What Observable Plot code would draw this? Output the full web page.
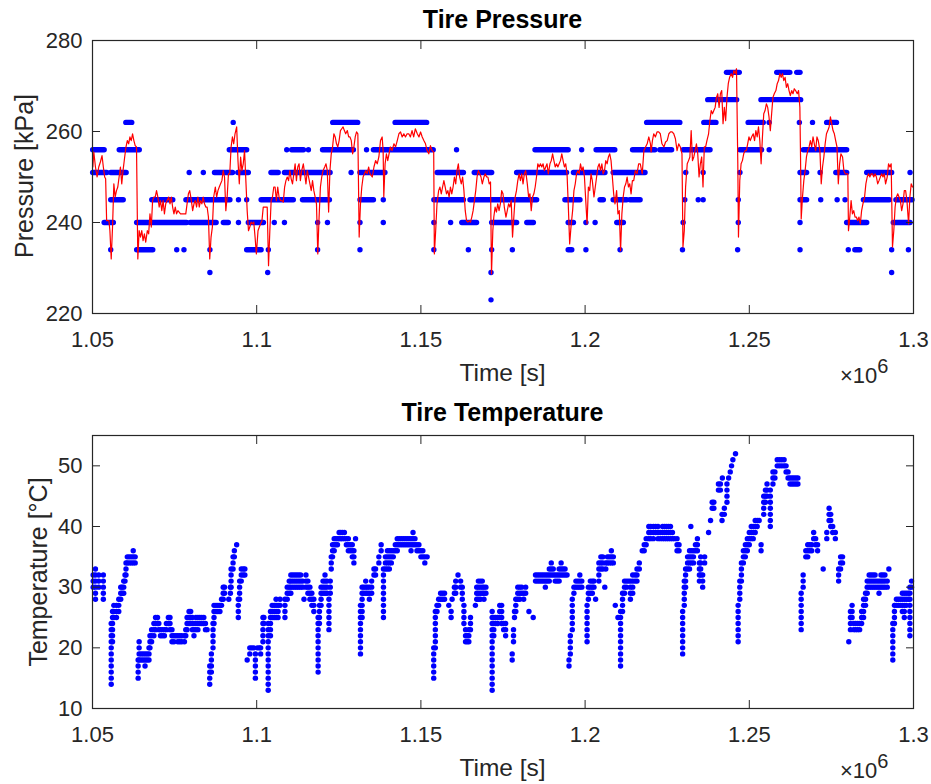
<!DOCTYPE html>
<html>
<head>
<meta charset="utf-8">
<script src="https://cdn.jsdelivr.net/npm/d3@7"></script>
<script src="https://cdn.jsdelivr.net/npm/@observablehq/plot@0.6"></script>
<style>
  html, body { margin: 0; padding: 0; background: #fff; }
  #wrap { position: relative; width: 931px; height: 784px; font-family: "Liberation Sans", Arial, Helvetica, sans-serif; color: #262626; overflow: hidden; }
  .panel { position: absolute; left: 0; }
  .txt { position: absolute; line-height: 1; white-space: nowrap; }
  .title { font-weight: bold; font-size: 25px; color: #000; left: 92px; width: 821px; text-align: center; }
  .xlab { font-size: 24.5px; left: 92px; width: 821px; text-align: center; }
  .ylab { font-size: 25px; transform: translate(-50%, -50%) rotate(-90deg); }
  .exp { font-size: 22px; left: 840px; }
  .exp sup { font-size: 20px; position: relative; top: -10px; vertical-align: baseline; }
</style>
</head>
<body>
<div id="wrap">
  <div id="pressurePanel" class="panel" style="top:0"></div>
  <div id="temperaturePanel" class="panel" style="top:395px"></div>
  <div class="txt title" style="top:7px">Tire Pressure</div>
  <div class="txt xlab" style="top:361px">Time [s]</div>
  <div class="txt exp" style="top:365px">×10<sup>6</sup></div>
  <div class="txt ylab" style="left:24px; top:176px">Pressure [kPa]</div>
  <div class="txt title" style="top:400px">Tire Temperature</div>
  <div class="txt xlab" style="top:756px">Time [s]</div>
  <div class="txt exp" style="top:760px">×10<sup>6</sup></div>
  <div class="txt ylab" style="left:38px; top:572px">Temperature [°C]</div>
</div>
<script>
// Time values are in kiloseconds (axis shows seconds ×10^6)
const xTicks = [1050, 1100, 1150, 1200, 1250, 1300];
const pressureTicks = [220, 240, 260, 280];
const temperatureTicks = [10, 20, 30, 40, 50];

// Raw pressure readings (quantized levels), as runs of consecutive dots: [tStart, tEnd, kPa]
const pressureRuns = [
  [1060.3,1062.1,262],[1093.0,1093.0,262],[1123.3,1130.9,262],[1142.3,1151.9,262],
  [1218.9,1229.0,262],[1236.3,1240.0,262],[1249.8,1254.4,262],[1256.2,1256.2,262],[1265.4,1265.4,262],[1269.4,1269.4,262],[1273.7,1276.7,262],
  [1243.2,1247.1,273],[1258.5,1262.5,273],[1264.6,1265.6,273],
  [1237.5,1246.3,267],[1253.7,1265.8,267],
  [1050.2,1053.7,256],[1058.3,1064.4,256],[1091.8,1097.1,256],[1109.3,1109.3,256],[1110.8,1114.4,256],[1115.9,1115.9,256],[1120.2,1129.6,256],[1133.6,1133.6,256],
  [1135.7,1153.9,256],[1161.0,1161.0,256],[1184.9,1195.0,256],[1199.1,1199.1,256],[1203.5,1209.2,256],[1214.6,1221.4,256],
  [1222.9,1226.5,256],[1230.0,1238.2,256],[1247.3,1253.9,256],[1256.2,1256.2,256],[1266.6,1279.8,256],
  [1050.2,1054.5,251],[1055.7,1060.4,251],[1079.6,1079.6,251],[1083.9,1083.9,251],[1087.3,1092.8,251],[1094.4,1097.6,251],[1104.5,1106.7,251],
  [1108.6,1122.5,251],[1128.9,1128.9,251],[1131.6,1139.2,251],[1155.1,1163.1,251],[1166.4,1171.7,251],[1179.3,1194.5,251],[1196.6,1206.2,251],
  [1208.7,1218.4,251],[1230.8,1230.8,251],[1236.1,1236.1,251],[1247.3,1247.3,251],[1265.6,1267.6,251],[1271.7,1271.7,251],[1276.5,1279.8,251],
  [1285.9,1293.5,251],[1299.1,1299.1,251],
  [1055.7,1059.5,245],[1068.2,1074.6,245],[1078.6,1092.0,245],[1094.6,1094.6,245],[1097.1,1097.1,245],[1101.5,1111.3,245],[1114.1,1122.3,245],
  [1131.6,1135.7,245],[1138.7,1138.7,245],[1154.1,1163.1,245],[1165.1,1185.4,245],[1194.0,1198.6,245],[1204.7,1205.7,245],[1208.7,1212.8,245],
  [1213.8,1216.9,245],[1230.5,1230.5,245],[1234.6,1234.6,245],[1236.1,1236.1,245],[1246.8,1246.8,245],[1265.6,1267.6,245],[1271.9,1271.9,245],
  [1276.9,1276.9,245],[1279.3,1279.3,245],[1284.9,1292.8,245],[1294.8,1299.7,245],
  [1053.7,1056.5,240],[1063.6,1078.8,240],[1079.9,1087.8,240],[1090.0,1091.5,240],[1094.6,1094.6,240],[1097.6,1102.2,240],[1105.5,1105.5,240],
  [1108.6,1108.6,240],[1118.7,1118.7,240],[1121.7,1121.7,240],[1131.6,1131.6,240],[1138.7,1138.7,240],[1154.1,1154.1,240],[1159.2,1159.2,240],
  [1162.6,1167.1,240],[1171.7,1179.3,240],[1182.4,1184.4,240],[1195.0,1196.6,240],[1200.4,1200.4,240],[1203.2,1203.2,240],[1209.8,1211.8,240],
  [1230.0,1230.0,240],[1246.8,1246.8,240],[1265.6,1265.6,240],[1279.8,1285.9,240],[1294.0,1299.1,240],
  [1055.7,1055.7,234],[1063.6,1068.5,234],[1075.8,1075.8,234],[1078.0,1078.0,234],[1085.9,1085.9,234],[1097.1,1101.5,234],[1103.7,1103.7,234],
  [1118.7,1118.7,234],[1131.6,1131.6,234],[1154.1,1154.1,234],[1164.6,1164.6,234],[1171.7,1171.7,234],[1178.0,1178.0,234],[1195.0,1196.1,234],
  [1200.4,1200.4,234],[1210.8,1210.8,234],[1229.8,1229.8,234],[1246.6,1246.6,234],[1265.6,1265.6,234],[1280.3,1280.3,234],[1282.3,1283.8,234],
  [1293.5,1293.5,234],[1298.6,1298.6,234],
  [1085.9,1085.9,229],[1103.5,1103.5,229],[1171.5,1171.5,229],[1293.5,1293.5,229],
  [1171.5,1171.5,223]
];

// Filtered pressure (red line): [t, kPa]
const pressureFiltered = [
  [1050.1,252.2],[1050.4,255.5],[1050.9,252.2],[1051.4,250.0],[1051.9,252.2],[1052.4,253.3],[1052.9,254.7],[1053.3,252.2],[1053.7,250.0],[1054.0,249.6],
  [1054.3,240.4],[1055.0,240.4],[1055.3,238.2],[1055.7,232.0],[1056.1,239.0],[1056.5,248.5],[1056.9,245.6],[1057.3,247.0],[1057.7,247.8],[1058.1,250.0],
  [1058.5,252.2],[1058.9,248.5],[1059.3,251.4],[1059.8,254.4],[1060.2,256.6],[1060.6,258.0],[1061.0,257.3],[1061.4,258.8],[1061.8,258.0],[1062.2,259.5],
  [1062.6,258.0],[1063.0,256.9],[1063.4,256.6],[1063.8,232.0],[1064.2,238.2],[1064.6,236.8],[1065.0,238.2],[1065.4,236.0],[1065.8,237.5],[1066.2,235.7],
  [1066.7,238.2],[1067.1,237.5],[1067.5,241.9],[1067.9,239.0],[1068.3,244.8],[1068.7,245.6],[1069.1,245.6],[1069.5,247.0],[1069.9,245.6],[1070.3,243.4],
  [1070.7,244.8],[1071.1,242.6],[1071.5,244.8],[1071.9,241.9],[1072.3,244.1],[1072.7,244.8],[1073.2,245.6],[1073.6,244.1],[1074.0,245.6],[1074.4,243.4],
  [1074.8,241.9],[1075.2,243.4],[1075.6,241.9],[1076.0,242.6],[1076.8,241.9],[1077.6,241.9],[1078.4,241.9],[1078.8,244.1],[1079.2,246.3],[1079.6,247.0],
  [1080.1,244.8],[1080.5,242.6],[1080.9,244.1],[1081.3,244.8],[1081.7,243.4],[1082.1,245.6],[1082.5,243.4],[1082.9,244.8],[1083.3,244.1],[1083.7,245.6],
  [1084.1,244.1],[1084.5,243.4],[1084.9,243.4],[1085.3,241.2],[1085.7,232.0],[1086.1,236.8],[1086.5,239.0],[1086.9,245.6],[1087.4,247.8],[1087.8,245.6],
  [1088.2,247.0],[1088.6,247.8],[1089.0,248.5],[1089.4,249.2],[1089.8,251.4],[1090.2,250.0],[1090.6,242.6],[1091.0,245.6],[1091.4,250.7],[1091.8,250.7],
  [1092.2,256.6],[1092.6,258.8],[1093.0,257.3],[1093.4,259.5],[1093.9,261.0],[1094.3,253.6],[1094.7,248.5],[1095.1,254.4],[1095.5,251.4],[1095.9,252.9],
  [1096.3,255.8],[1096.7,249.2],[1097.1,242.6],[1097.5,238.2],[1097.9,239.0],[1098.3,240.1],[1098.7,239.7],[1099.1,240.1],[1099.5,236.8],[1099.9,233.1],
  [1100.4,238.2],[1100.8,239.0],[1101.2,239.7],[1101.6,240.4],[1102.0,243.4],[1102.4,243.4],[1102.8,243.4],[1103.2,243.4],[1103.6,230.5],[1104.0,238.2],
  [1104.4,244.8],[1104.8,245.6],[1105.2,247.8],[1105.6,247.8],[1106.0,244.8],[1106.4,247.8],[1106.8,245.6],[1107.3,244.8],[1107.7,244.8],[1108.1,244.5],
  [1108.5,247.8],[1108.9,249.2],[1109.3,250.0],[1109.7,249.2],[1110.1,251.4],[1110.5,249.6],[1110.9,248.5],[1111.3,250.7],[1111.7,252.9],[1112.1,249.2],
  [1112.5,252.2],[1112.9,252.9],[1113.3,249.2],[1113.7,251.4],[1114.2,252.9],[1114.6,250.7],[1115.0,248.5],[1115.4,251.4],[1115.8,250.0],[1116.2,248.5],
  [1116.6,247.0],[1117.0,249.2],[1117.4,247.0],[1117.8,245.6],[1118.2,244.1],[1118.6,233.1],[1119.0,241.2],[1119.4,247.8],[1119.8,250.0],[1120.2,251.4],
  [1120.7,252.2],[1121.1,252.9],[1121.5,251.4],[1121.9,242.3],[1122.3,251.4],[1122.7,255.1],[1123.1,256.6],[1123.5,259.5],[1123.9,258.8],[1124.3,257.3],
  [1124.7,256.6],[1125.1,258.0],[1125.5,260.2],[1125.9,260.6],[1126.3,261.0],[1126.7,260.2],[1127.1,259.5],[1127.6,260.2],[1128.0,258.8],[1128.4,258.8],
  [1128.8,258.0],[1129.2,255.1],[1129.6,256.6],[1130.0,258.8],[1130.4,259.9],[1130.8,259.5],[1131.2,236.8],[1131.6,244.1],[1132.0,247.8],[1132.4,250.0],
  [1132.8,250.7],[1133.2,251.4],[1133.6,250.7],[1134.1,252.2],[1134.5,250.7],
  [1135.2,250.0],[1135.7,252.2],[1136.2,253.6],[1136.7,252.9],[1137.2,254.4],[1137.7,258.0],[1138.2,258.8],[1138.5,255.8],[1138.7,245.6],[1139.1,252.9],
  [1139.5,255.1],[1139.9,253.6],[1140.3,255.1],[1140.7,256.6],[1141.2,255.8],[1141.8,257.3],[1142.3,256.6],[1142.8,258.0],[1143.3,259.5],[1143.8,259.9],
  [1144.3,258.8],[1144.8,259.5],[1145.3,258.8],[1145.8,259.5],[1146.3,259.5],[1146.8,258.8],[1147.3,260.2],[1147.8,258.8],[1148.3,260.6],[1148.9,259.5],
  [1149.4,258.8],[1149.9,259.9],[1150.4,258.8],[1150.9,258.0],[1151.4,257.3],[1151.9,255.8],[1152.4,255.1],[1152.9,256.9],[1153.4,255.8],[1153.9,255.5],
  [1154.1,233.1],[1154.5,238.2],[1154.9,244.1],[1155.4,247.0],[1155.8,247.8],[1156.2,246.3],[1156.6,247.8],[1157.0,249.2],[1157.4,247.8],[1157.8,246.3],
  [1158.2,247.0],[1158.6,245.6],[1159.0,247.8],[1159.4,246.3],[1159.8,247.8],[1160.2,250.0],[1160.6,248.5],[1161.0,251.4],[1161.4,252.9],[1161.8,250.0],
  [1162.3,248.5],[1162.7,250.0],[1163.1,247.0],[1163.5,242.6],[1163.9,240.4],[1164.3,240.1],[1164.7,240.4],[1165.1,240.1],[1165.5,241.2],[1165.9,242.6],
  [1166.3,244.8],[1166.7,247.0],[1167.1,250.0],[1167.5,251.4],[1167.9,250.7],[1168.3,250.0],[1168.7,248.5],[1169.2,250.0],[1169.6,250.7],[1170.0,250.0],
  [1170.4,250.0],[1170.8,248.5],[1171.2,248.9],[1171.5,228.7],[1171.9,238.2],[1172.2,241.2],[1172.6,243.4],[1173.0,242.3],[1173.4,244.1],[1173.8,242.6],
  [1174.2,244.1],[1174.6,247.0],[1175.0,246.3],[1175.4,243.4],[1175.9,241.2],[1176.3,242.6],[1176.7,244.1],[1177.1,243.4],[1177.5,244.8],[1177.9,236.8],
  [1178.3,241.2],[1178.7,245.6],[1179.1,247.0],[1179.5,249.2],[1179.9,250.7],[1180.3,249.2],[1180.7,250.7],[1181.1,248.5],[1181.5,250.7],[1181.9,251.4],
  [1182.4,248.5],[1182.8,245.6],[1183.2,246.3],[1183.6,242.6],[1184.0,245.6],[1184.4,246.3],[1184.8,247.8],[1185.2,250.0],[1185.6,252.9],[1186.0,252.2],
  [1186.4,252.9],[1186.8,252.2],[1187.2,252.9],[1187.6,251.4],[1188.0,252.2],[1188.4,252.9],[1188.8,250.7],[1189.3,252.9],[1189.7,253.6],[1190.1,255.1],
  [1190.5,253.6],[1190.9,252.2],[1191.3,252.9],[1191.7,252.2],[1192.1,252.9],[1192.5,253.6],[1192.9,255.1],[1193.3,253.6],[1193.7,252.2],[1194.1,252.9],
  [1194.5,250.7],[1194.9,243.4],[1195.3,235.3],[1195.7,239.0],[1196.2,242.6],[1196.6,247.0],[1197.0,248.5],[1197.4,250.7],[1197.8,251.4],[1198.2,250.7],
  [1198.6,252.9],[1199.0,251.4],[1199.4,252.2],[1199.8,250.0],[1200.2,244.8],[1200.6,239.7],[1201.0,247.8],[1201.4,247.0],[1201.8,250.7],[1202.2,249.2],
  [1202.7,245.6],[1203.1,247.8],[1203.5,250.0],[1203.9,252.2],[1204.3,252.9],[1204.7,251.4],[1205.1,252.9],[1205.5,250.7],[1205.9,251.4],[1206.3,253.6],
  [1206.7,252.9],[1207.1,254.4],[1207.5,255.1],[1207.9,253.6],[1208.3,250.0],[1208.7,246.3],[1209.1,244.1],[1209.6,247.0],[1210.0,241.9],[1210.4,242.6],
  [1210.8,233.8],[1211.2,241.9],[1211.6,245.6],[1212.0,247.8],[1212.4,248.5],[1212.8,250.0],[1213.2,247.8],[1213.6,248.5],[1214.0,246.3],[1214.4,249.2],
  [1214.8,249.2],[1215.3,251.4],[1215.8,250.7],[1216.3,252.9],[1216.8,252.9],[1217.4,250.7],[1217.9,255.8],[1218.4,256.6],[1218.9,257.3],[1219.4,258.8],
  [1219.9,257.3],[1220.1,255.5],[1220.5,258.0],[1220.9,259.5],[1221.4,258.8],[1221.9,259.9],[1222.4,259.9],[1222.9,259.5],[1223.4,257.3],[1224.0,256.6],
  [1224.5,257.7],[1225.0,258.0],[1225.5,259.5],[1226.0,259.9],[1226.5,259.9],[1227.0,259.5],[1227.5,258.4],[1228.0,255.8],[1228.5,257.3],[1229.0,256.6],
  [1229.5,255.1],[1229.8,234.6],[1230.2,238.2],[1230.6,247.8],[1231.1,252.9],[1231.5,253.6],[1231.9,254.4],[1232.3,260.2],[1232.7,253.6],[1233.1,254.4],
  [1233.5,255.8],[1233.9,257.3],[1234.3,255.1],[1234.7,250.0],[1235.1,252.9],[1235.5,254.4],[1235.9,247.8],[1236.3,256.6],[1236.7,256.6],[1237.1,258.0],
  [1237.6,259.5],[1238.0,262.4],[1238.4,264.6],[1238.8,263.9],[1239.2,264.6],[1239.6,265.3],[1240.0,267.5],[1240.4,268.3],[1240.8,265.3],[1241.2,268.3],
  [1241.6,269.0],[1242.0,261.7],[1242.4,265.3],[1242.8,262.4],[1243.2,267.5],[1243.6,270.5],[1244.0,271.9],[1244.5,272.7],[1244.9,271.9],[1245.3,273.4],
  [1245.7,272.7],[1246.1,273.8],[1246.5,252.9],[1246.7,236.8],[1247.1,249.2],[1247.5,252.9],[1247.9,253.6],[1248.3,255.1],[1248.7,255.8],[1249.1,255.8],
  [1249.5,257.3],[1249.9,258.8],[1250.3,258.0],[1250.7,258.8],[1251.2,259.5],[1251.6,258.0],[1252.0,260.2],[1252.4,258.8],[1252.8,261.0],[1253.2,258.0],
  [1253.6,252.9],[1254.0,258.8],[1254.4,263.9],[1254.8,264.6],[1255.2,266.1],[1255.6,265.3],[1256.0,263.2],[1256.4,260.2],[1256.8,263.9],[1257.2,267.5],
  [1257.6,268.3],[1258.1,269.0],[1258.5,270.5],[1258.9,271.2],[1259.3,272.7],[1259.7,271.9],[1260.1,272.7],[1260.5,271.2],[1260.9,271.9],[1261.3,269.7],
  [1261.7,270.5],[1262.1,269.0],[1262.5,267.9],[1262.9,269.0],[1263.3,268.3],[1263.7,269.4],[1264.1,269.0],[1264.6,268.3],[1265.0,269.0],[1265.4,265.3],
  [1265.6,254.4],[1265.8,240.8],[1266.2,245.6],[1266.6,249.2],[1267.0,251.4],[1267.4,254.4],[1267.8,255.8],[1268.2,256.6],[1268.6,258.0],[1269.0,256.6],
  [1269.4,258.8],[1269.8,257.3],[1270.2,255.8],[1270.6,258.8],[1271.0,258.0],[1271.5,255.8],[1271.9,248.5],[1272.3,252.2],[1272.7,254.4],[1273.1,257.3],
  [1273.5,259.5],[1273.9,260.2],[1274.3,261.0],[1274.7,263.2],[1275.1,261.7],[1275.5,260.2],[1275.9,259.5],[1276.3,258.0],[1276.7,256.6],[1277.1,248.5],
  [1277.5,252.9],[1277.9,255.1],[1278.4,254.4],[1278.8,251.4],[1279.2,250.7],[1279.6,250.7],[1280.0,250.7],[1280.2,238.2],[1280.6,241.2],[1281.0,244.8],
  [1281.4,241.9],[1281.8,242.6],[1282.2,241.2],[1282.6,241.2],[1283.0,240.4],[1283.4,241.2],[1283.8,239.7],[1284.2,242.6],[1284.6,244.1],[1285.1,245.6],
  [1285.5,248.5],[1285.9,250.0],[1286.3,250.7],[1286.7,250.0],[1287.1,250.7],[1287.5,250.7],[1287.9,250.0],[1288.3,250.7],[1288.7,250.0],[1289.1,248.5],
  [1289.5,249.2],[1289.9,250.0],[1290.3,250.7],[1290.7,250.0],[1291.1,250.7],[1291.5,248.5],[1292.0,250.0],[1292.4,252.9],[1292.8,252.2],[1293.2,252.9],
  [1293.6,234.6],[1294.0,238.2],[1294.4,243.4],[1294.8,245.6],[1295.2,246.3],[1295.6,245.6],[1296.0,244.8],[1296.4,242.6],[1296.8,244.1],[1297.2,247.0],
  [1297.6,247.0],[1298.0,244.8],[1298.5,239.7],[1298.9,245.6],[1299.3,248.5],[1299.7,247.8]
];

// Temperature readings (integer °C). Each entry is one time column: [t, lowest °C, highest °C];
// every integer reading between lowest and highest is a visible dot in that column.
const temperatureColumns = [
  [1050.2,30,32],[1050.9,28,33],[1051.9,30,32],[1053.3,28,32],
  [1055.7,14,24],[1056.1,21,26],[1056.5,25,27],[1057.3,25,27],[1058.0,26,28],[1058.6,28,30],[1059.0,29,30],[1059.5,29,31],[1059.9,31,32],[1060.2,32,34],
  [1060.6,34,35],[1061.2,34,35],[1061.8,34,35],[1062.4,34,36],[1063.0,34,35],
  [1063.9,15,18],[1064.2,18,21],[1064.8,18,19],[1065.4,18,19],[1066.0,17,19],[1066.6,18,19],[1067.2,18,20],[1067.5,20,22],[1068.0,21,23],[1068.7,22,24],
  [1069.2,23,25],[1069.8,24,25],[1070.2,23,24],[1070.7,22,23],[1071.3,22,23],[1071.9,22,23],[1072.5,23,24],[1073.1,24,25],[1073.6,23,25],[1074.2,21,23],
  [1074.8,21,22],[1075.4,22,22],[1076.0,21,22],[1076.6,21,22],[1077.2,21,22],[1078.0,21,22],[1078.4,22,23],[1078.8,23,25],[1079.4,24,26],[1079.9,24,26],
  [1080.4,23,25],[1080.9,22,24],[1081.5,23,25],[1082.1,23,25],[1082.7,24,25],[1083.3,24,25],[1083.9,24,25],[1084.4,23,24],[1084.9,23,23],
  [1085.7,14,17],[1086.2,16,19],[1086.7,20,24],[1087.0,24,27],[1087.6,26,27],[1088.2,26,27],[1088.8,26,27],[1089.3,27,28],[1089.8,28,30],[1090.2,29,30],
  [1091.5,28,28],[1092.0,29,30],[1092.2,30,33],[1092.8,33,35],[1093.2,35,36],[1093.9,37,37],
  [1094.4,25,28],[1094.8,28,31],[1095.3,31,33],[1095.9,32,33],[1096.4,32,33],
  [1097.1,18,18],[1097.9,19,20],[1098.5,20,20],[1099.1,20,20],[1099.6,15,19],[1100.2,20,20],[1100.8,20,20],[1101.2,19,20],[1101.9,21,25],[1102.2,24,25],
  [1103.5,13,24],[1104.2,22,26],[1104.7,25,27],[1105.3,25,27],[1105.9,25,28],[1106.5,25,27],[1107.1,27,28],[1108.6,25,28],[1109.3,28,30],[1109.9,29,31],
  [1110.4,29,32],[1111.0,30,32],[1111.6,30,32],[1112.2,30,32],[1112.8,30,32],[1113.4,30,32],[1114.0,30,31],[1114.4,28,28],[1115.0,30,32],[1115.6,29,31],
  [1116.2,28,30],[1116.8,27,29],[1117.4,26,28],
  [1118.7,16,25],[1119.1,24,27],[1119.6,27,30],[1120.2,29,31],[1120.8,29,32],[1121.4,29,31],[1122.0,23,28],[1122.4,29,31],[1122.7,33,35],[1123.1,35,37],
  [1123.6,36,38],[1124.1,37,38],[1124.6,37,38],[1125.1,38,39],[1125.6,38,39],[1126.1,38,39],[1126.7,38,39],[1127.3,37,38],[1127.9,36,38],[1128.5,36,37],
  [1129.1,35,37],[1129.6,34,36],[1130.1,38,38],
  [1131.6,19,27],[1132.1,25,30],[1132.6,29,30],[1133.2,29,31],[1133.7,29,30],[1134.3,28,30],[1135.0,29,31],[1135.7,32,33],[1136.2,32,33],[1137.2,34,35],
  [1137.9,36,37],[1138.6,25,33],[1139.2,33,35],[1139.8,33,36],[1140.4,33,36],[1141.0,34,36],[1141.6,35,36],[1142.2,36,37],[1142.8,36,38],[1143.4,37,38],
  [1144.0,37,38],[1144.6,37,38],[1145.2,37,38],[1145.8,37,38],[1146.4,37,38],[1147.0,36,38],[1147.6,37,39],[1148.2,37,38],[1148.8,36,37],[1149.4,36,37],
  [1150.0,35,36],[1150.6,35,36],[1151.2,34,35],[1151.9,35,35],
  [1153.9,15,20],[1154.4,20,26],[1154.9,26,27],[1155.4,27,28],[1156.0,28,29],[1156.6,28,29],[1157.2,28,29],[1158.5,27,27],[1159.2,25,26],[1159.5,28,28],
  [1160.2,29,30],[1160.6,29,31],[1161.3,32,32],[1162.1,30,31],[1162.6,28,30],[1163.1,24,27],[1163.6,21,23],[1164.1,21,22],[1164.6,21,23],[1165.1,23,25],
  [1166.6,27,27],[1167.0,28,30],[1167.5,28,31],[1168.1,28,31],[1168.7,29,31],[1169.2,28,30],[1169.8,29,30],
  [1171.7,13,26],[1172.2,22,25],[1172.8,24,25],[1173.4,24,25],[1174.0,25,27],[1174.6,24,27],[1175.2,23,24],[1175.8,22,24],
  [1177.8,18,19],[1178.2,21,23],[1178.5,25,26],[1178.9,26,28],[1179.5,28,30],[1180.1,28,30],[1180.7,29,30],[1181.3,28,29],[1181.9,29,30],[1182.9,26,26],
  [1184.2,25,25],
  [1184.9,31,32],[1185.5,31,32],[1186.1,31,32],[1186.7,31,32],[1187.3,31,32],[1187.9,30,32],[1188.5,31,32],[1189.1,31,33],[1189.7,32,34],[1190.3,32,33],
  [1190.9,31,32],[1191.5,31,32],[1192.1,31,33],[1192.7,32,34],[1193.3,32,33],[1193.9,32,33],[1194.5,32,32],
  [1195.1,17,18],[1195.5,19,22],[1196.1,23,28],[1196.6,29,30],[1197.2,30,31],[1197.8,30,31],[1198.4,30,32],[1199.0,30,31],
  [1200.6,21,27],[1201.0,28,30],[1201.6,29,31],[1202.2,29,31],[1202.7,30,31],[1203.2,28,28],
  [1204.2,31,34],[1204.8,33,35],[1205.4,33,35],[1206.0,30,30],[1206.3,33,34],[1206.8,34,35],[1207.4,34,35],[1208.0,34,36],[1208.6,34,35],
  [1209.2,27,27],[1210.0,25,25],
  [1210.8,17,26],[1211.4,26,29],[1212.0,29,31],[1212.6,30,31],[1213.2,31,31],
  [1213.8,28,31],[1214.5,29,32],[1215.2,31,32],[1215.8,31,33],[1216.5,33,34],[1217.4,36,36],[1218.0,36,37],[1218.6,37,38],[1219.4,38,40],[1220.0,38,40],
  [1220.8,38,40],[1221.5,39,40],[1222.2,38,40],[1222.9,38,39],[1223.6,38,40],[1224.2,38,40],[1224.8,38,40],[1225.4,38,40],[1226.0,38,40],[1226.6,38,39],
  [1227.2,38,38],[1228.0,36,38],[1228.6,36,37],
  [1229.7,19,26],[1230.2,27,31],[1230.6,30,33],[1231.2,33,35],[1231.8,33,36],[1232.2,40,40],[1232.4,34,36],[1233.0,34,36],[1233.6,36,37],[1234.2,36,38],
  [1234.8,31,34],[1235.2,32,35],[1235.8,30,32],[1236.4,34,35],[1237.6,39,39],[1238.2,41,41],[1238.7,43,44],[1239.2,43,44],[1240.6,46,47],[1241.2,46,47],
  [1241.7,41,42],[1241.8,48,48],[1242.4,42,43],[1243.2,44,47],[1243.7,48,48],[1244.2,49,49],[1244.6,50,50],[1245.0,51,51],[1245.8,52,52],
  [1246.6,21,27],[1247.1,28,31],[1247.6,31,34],[1248.2,34,36],[1248.8,35,37],[1249.4,36,38],[1250.0,37,39],[1250.6,38,40],[1251.2,38,40],[1251.8,39,41],
  [1252.4,40,41],[1253.0,41,41],[1253.6,36,37],[1254.4,42,45],[1254.9,44,46],[1255.4,45,47],[1256.4,40,46],[1257.2,47,49],[1257.8,48,49],[1258.5,50,51],
  [1259.2,50,51],[1259.9,50,51],[1260.6,50,51],[1261.2,49,50],[1261.8,48,49],[1262.4,47,48],[1263.0,47,48],[1263.6,47,48],[1264.2,47,48],[1264.8,47,48],
  [1265.8,23,29],[1266.4,30,32],[1267.2,35,36],[1267.8,35,37],[1268.4,36,37],[1269.0,36,37],[1269.6,38,39],[1270.2,37,38],[1270.8,36,37],[1272.5,33,33],
  [1273.6,38,39],[1274.3,41,43],[1274.8,40,42],[1275.4,39,40],[1276.2,38,39],[1277.2,31,33],[1277.8,33,35],[1278.4,34,35],
  [1280.3,21,21],[1280.8,23,26],[1281.3,25,27],[1281.8,23,24],[1282.4,23,24],[1283.0,23,24],[1283.6,23,24],[1284.2,24,26],[1284.8,25,28],[1285.4,27,29],
  [1285.9,29,31],[1286.5,30,32],[1287.1,30,32],[1287.7,30,32],[1288.3,30,32],[1288.9,30,31],[1289.5,29,31],[1290.1,30,32],[1290.7,30,32],[1291.3,30,32],
  [1292.0,30,31],[1292.5,33,33],
  [1293.7,18,24],[1294.2,24,27],[1294.8,27,28],[1295.4,27,28],[1296.0,27,28],[1296.6,26,29],[1297.2,25,29],[1297.8,27,29],[1298.4,28,29],[1298.9,22,30],
  [1299.4,30,31]
];

const temperatureDots = temperatureColumns.flatMap(([t, lo, hi]) =>
  d3.range(lo, hi + 1).map(c => ({t, c})));

const INK = "#262626";
const BLUE = "#0000ff";
const RED = "#ff0000";

function frameAxes(yTicks) {
  return [
    Plot.axisX({anchor: "bottom", ticks: xTicks, tickSize: -8, tickPadding: 26, tickFormat: d => String(d / 1000), label: null, stroke: INK, fill: INK}),
    Plot.axisX({anchor: "top", ticks: xTicks, tickSize: -8, tickFormat: () => "", label: null, stroke: INK}),
    Plot.axisY({anchor: "left", ticks: yTicks, tickSize: -8, tickPadding: 18, label: null, stroke: INK, fill: INK}),
    Plot.axisY({anchor: "right", ticks: yTicks, tickSize: -8, tickFormat: () => "", label: null, stroke: INK}),
    Plot.frame({stroke: INK, strokeWidth: 1.2})
  ];
}

const common = {
  width: 931,
  marginLeft: 92,
  marginRight: 18,
  marginTop: 40,
  style: {fontFamily: "'Liberation Sans', Arial, Helvetica, sans-serif", fontSize: "22px", color: INK, background: "transparent", overflow: "visible"}
};

const pressurePlot = Plot.plot({
  ...common,
  height: 390,
  marginBottom: 77,
  x: {domain: [1050, 1300]},
  y: {domain: [220, 280]},
  marks: [
    Plot.ruleY(pressureRuns, {y: d => d[2], x1: d => d[0], x2: d => d[1], stroke: BLUE, strokeWidth: 5.4, strokeLinecap: "round"}),
    Plot.line(pressureFiltered, {x: d => d[0], y: d => d[1], stroke: RED, strokeWidth: 1.2}),
    ...frameAxes(pressureTicks)
  ]
});
document.getElementById("pressurePanel").appendChild(pressurePlot);

const temperaturePlot = Plot.plot({
  ...common,
  height: 389,
  marginBottom: 76,
  x: {domain: [1050, 1300]},
  y: {domain: [10, 55]},
  marks: [
    Plot.dot(temperatureDots, {x: "t", y: "c", r: 2.7, fill: BLUE, stroke: null}),
    ...frameAxes(temperatureTicks)
  ]
});
document.getElementById("temperaturePanel").appendChild(temperaturePlot);
</script>
</body>
</html>
